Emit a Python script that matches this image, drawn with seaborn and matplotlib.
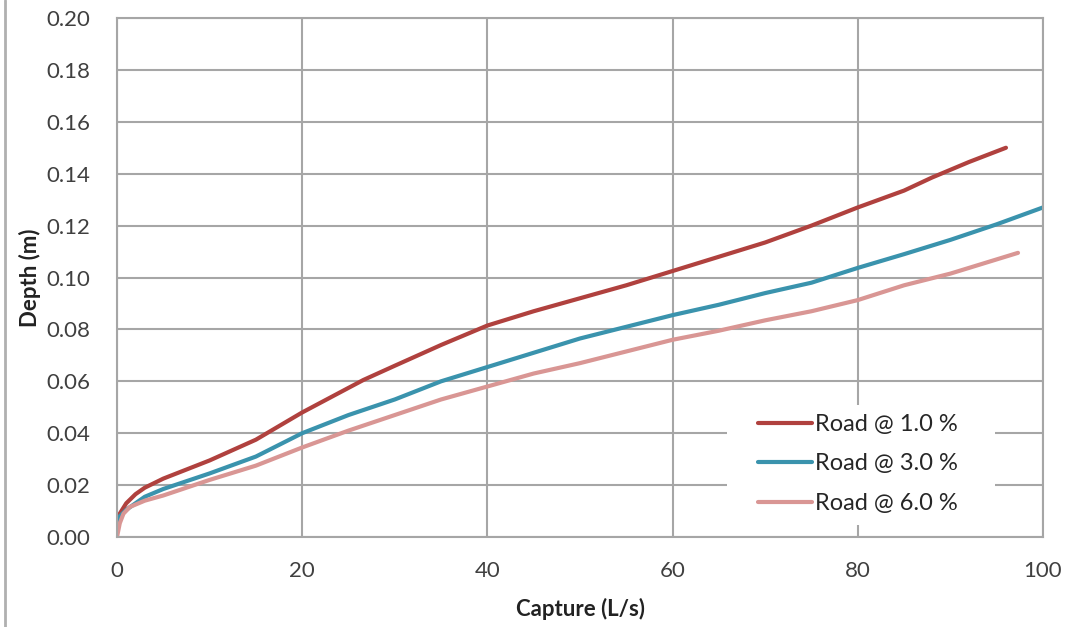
import matplotlib
matplotlib.use("Agg")
import matplotlib.pyplot as plt
from matplotlib.patches import Rectangle
import seaborn as sns
import pandas as pd

# ---------------- DATA ----------------
capture_1 = [0, 0.3, 1, 2, 3, 5, 10, 15, 20, 26.6, 30, 35, 40, 45, 50, 55, 60, 65, 70, 75, 80, 85, 88, 92, 96]
depth_1 = [0.007, 0.009, 0.013, 0.0165, 0.019, 0.0225, 0.0295, 0.0375, 0.048, 0.0605, 0.066, 0.074, 0.0815,
           0.087, 0.092, 0.097, 0.1025, 0.108, 0.1135, 0.120, 0.127, 0.1335, 0.1385, 0.1445, 0.150]

capture_3 = [0, 0.3, 1, 3, 5, 10, 15, 20, 25, 30, 35, 40, 45, 50, 55, 60, 65, 70, 75, 80, 85, 90, 95, 100]
depth_3 = [0.006, 0.008, 0.0105, 0.0155, 0.0185, 0.0245, 0.031, 0.040, 0.047, 0.053, 0.060, 0.0655, 0.071,
           0.0765, 0.081, 0.0855, 0.0895, 0.094, 0.098, 0.1037, 0.109, 0.1145, 0.1205, 0.127]

capture_6 = [0, 0.3, 0.7, 1.4, 3, 5, 10, 15, 20, 25, 30, 35, 40, 45, 50, 55, 60, 65, 70, 75, 80, 85, 90, 97.3]
depth_6 = [0.000, 0.0053, 0.009, 0.0116, 0.014, 0.016, 0.022, 0.0275, 0.0345, 0.041, 0.047, 0.053, 0.058,
           0.063, 0.067, 0.0715, 0.076, 0.0795, 0.0835, 0.087, 0.0913, 0.097, 0.1015, 0.1095]

labels = ["Road @ 1.0 %", "Road @ 3.0 %", "Road @ 6.0 %"]
colors = ["#B0413E", "#3A93AD", "#D99694"]

df = pd.concat([
    pd.DataFrame({"Capture": capture_1, "Depth": depth_1, "Series": labels[0]}),
    pd.DataFrame({"Capture": capture_3, "Depth": depth_3, "Series": labels[1]}),
    pd.DataFrame({"Capture": capture_6, "Depth": depth_6, "Series": labels[2]}),
])

# ---------------- PLOT ----------------
sns.set_style("white")
plt.rcParams["font.family"] = ["Lato", "DejaVu Sans"]

W, H = 1084, 627
fig = plt.figure(figsize=(W / 100, H / 100), dpi=100)
ax = fig.add_axes([117 / W, 1 - 537 / H, (1043 - 117) / W, (537 - 18) / H])

sns.lineplot(data=df, x="Capture", y="Depth", hue="Series", palette=colors,
             linewidth=3, sort=False, ax=ax)

ax.set_xlim(0, 100)
ax.set_ylim(0, 0.20)
ax.set_xticks(range(0, 101, 20))
ax.set_yticks([i / 100 for i in range(0, 21, 2)])
ax.set_yticklabels([f"{i / 100:.2f}" for i in range(0, 21, 2)])
ax.tick_params(axis="y", labelsize=16, colors="#404040", length=0, pad=19)
ax.tick_params(axis="x", labelsize=16, colors="#404040", length=0, pad=17)
ax.grid(True, color="#a6a6a6", linewidth=1.5)
ax.set_axisbelow(True)
for s in ax.spines.values():
    s.set_color("#a6a6a6")
    s.set_linewidth(1.5)

ax.set_xlabel("Capture (L/s)", fontsize=16, fontweight="bold", color="#222222")
ax.set_ylabel("Depth (m)", fontsize=16, fontweight="bold", color="#222222")
ax.xaxis.set_label_coords(0.5, (537 - 598) / 519)
ax.yaxis.set_label_coords((41 - 117) / 926, 0.5)

# white legend area hiding the gridlines
ax.add_patch(Rectangle(((727 - 117) / 926, (537 - 525) / 519), (995 - 727) / 926, (525 - 405) / 519,
                       transform=ax.transAxes, facecolor="white", edgecolor="none", zorder=1.5))

ax.legend(loc="upper left", bbox_to_anchor=((758 - 117) / 926, (537 - 414) / 519), fontsize=17,
          frameon=False, handlelength=2.3, handletextpad=0.12, borderpad=0,
          labelspacing=0.78, borderaxespad=0)

# figure border line on the left
fig.add_artist(plt.Line2D([5 / W, 5 / W], [0, 1], color="#b0b0b0", linewidth=2))

fig.savefig("out.png", dpi=100)
